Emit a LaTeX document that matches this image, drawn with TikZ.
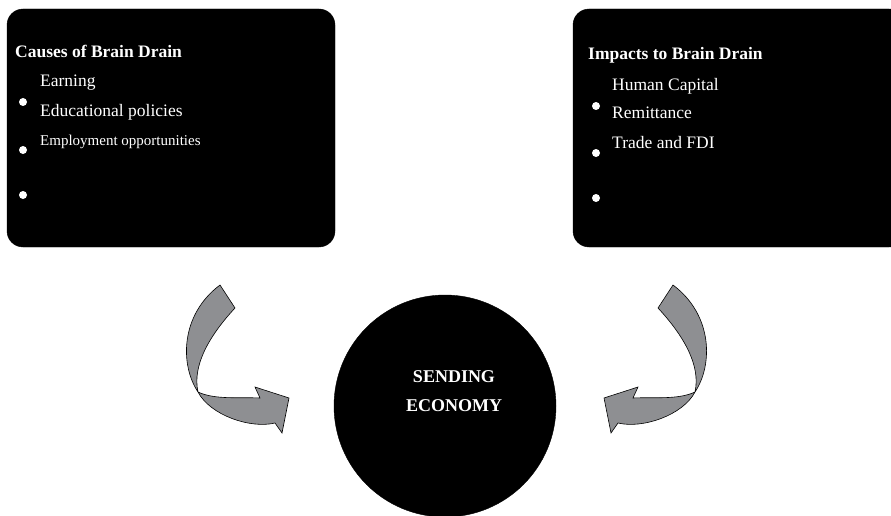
\documentclass[tikz,border=0pt]{standalone}
\usepackage{fontspec}
\setmainfont{Liberation Serif}
\usetikzlibrary{calc}
\definecolor{arrowgray}{RGB}{142,143,146}
\def\bentarrow{\draw[line width=0.6pt, fill=arrowgray] (220,285) -- (235,308) .. controls (210,335) and (192,365) .. (198,392) .. controls (215,400) and (240,397) .. (260,398) -- (255,387) -- (289,398) -- (282,433) -- (275,423) .. controls (250,429) and (210,415) .. (198,392) .. controls (180,365) and (180,315) .. (220,285) -- cycle;}

\begin{document}
\begin{tikzpicture}[x=1pt, y=-1pt,
	head/.style={text=white, font=\fontsize{17.5}{20}\selectfont\bfseries, anchor=base west, inner sep=0pt},
	item/.style={text=white, font=\fontsize{17.5}{19}\selectfont, anchor=base west, inner sep=0pt},
	dot/.style={fill=white, circle, inner sep=0pt, minimum size=8pt}]
			%%%%% START %%%%%
			\useasboundingbox (0,0) rectangle (891,516);
			
			\draw[fill=black, rounded corners=16pt] (7, 9) rectangle (335, 247);
			\draw[fill=black, rounded corners=16pt] (573, 9) rectangle (905, 247);
			
			\node[head] (causes) at (15, 58) {Causes of Brain Drain};
			\node[item] (earn) at (40, 87) {Earning};
			\node[item] (edu) at (40, 117) {Educational policies};
			\node[item, font=\fontsize{15}{17}\selectfont] (emp) at (40, 146) {Employment opportunities};
			\node[dot] (d1) at (23, 102) {};
			\node[dot] (d2) at (23, 150) {};
			\node[dot] (d3) at (23, 195) {};
			
			\node[head] (impacts) at (588, 60) {Impacts to Brain Drain};
			\node[item] (human) at (612, 91) {Human Capital};
			\node[item] (remit) at (612, 119) {Remittance};
			\node[item] (trade) at (612, 148) {Trade and FDI};
			\node[dot] (d4) at (596, 106) {};
			\node[dot] (d5) at (596, 153) {};
			\node[dot] (d6) at (596, 198) {};
			
			\draw[fill=black] (445, 406) circle (111);
			\node[text=white, font=\fontsize{18}{29}\selectfont\bfseries, align=center, anchor=base] (sending) at (454, 411) {SENDING\\ECONOMY};
			
			\bentarrow
			\begin{scope}[xshift=893pt, xscale=-1]
				\bentarrow
			\end{scope}
			
			%%%%% END %%%%%
\end{tikzpicture}
\end{document}
